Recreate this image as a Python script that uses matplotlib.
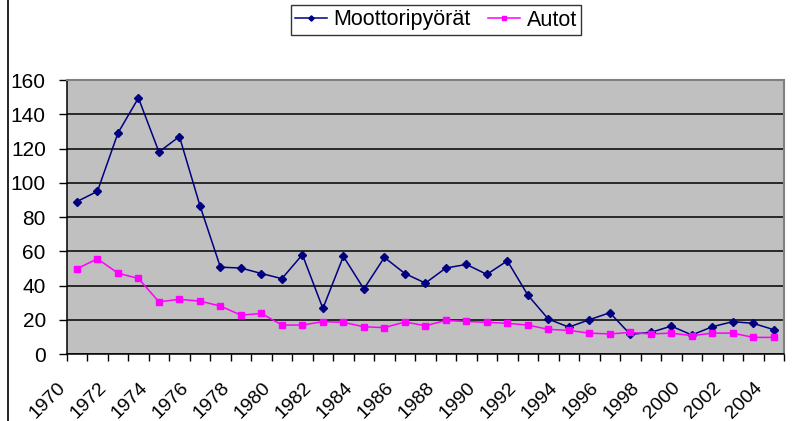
import numpy as np
import matplotlib
matplotlib.use("Agg")
import matplotlib.pyplot as plt
from matplotlib.transforms import ScaledTranslation
from matplotlib.lines import Line2D

years = list(range(1970, 2005))
moottoripyorat = [89, 95, 129, 149.5, 118, 127, 86.7, 50.7, 50.2, 47, 44, 58, 26.6, 57, 38, 56.4,
                  47, 41.4, 50.2, 52.3, 46.5, 54.4, 34.4, 20.4, 15.7, 20, 24.1, 11.5, 12.6, 16.3,
                  11.1, 15.9, 18.9, 17.9, 14.2]
autot = [49.8, 55.6, 47.2, 44.1, 30.5, 31.9, 30.9, 28, 22.7, 23.7, 16.9, 16.9, 18.9, 18.5, 15.9, 15.4,
         18.7, 16.5, 19.6, 19, 18.5, 17.9, 16.9, 14.4, 13.8, 12.2, 11.7, 12.6, 11.7, 12.2,
         10.7, 12.2, 12.2, 9.7, 9.7]
series_names = ["Moottoripyörät", "Autot"]
y_ticks = [0, 20, 40, 60, 80, 100, 120, 140, 160]

plt.rcParams['font.family'] = ['Liberation Sans', 'DejaVu Sans']

fig = plt.figure(figsize=(7.92, 4.21), dpi=100)
W, H = 792, 421
left, right, top, bottom = 66.7, 784, 80, 354
ax = fig.add_axes([left / W, 1 - bottom / H, (right - left) / W, (bottom - top) / H])
ax.set_facecolor('#C0C0C0')

x = np.arange(len(years))
ax.plot(x, moottoripyorat, color='#000080', lw=1.1, marker='D', ms=4.5,
        mfc='#000080', mec='#000080', label=series_names[0], zorder=3)
ax.plot(x, autot, color='#FF00FF', lw=1.1, marker='s', ms=5,
        mfc='#FF00FF', mec='#FF00FF', label=series_names[1], zorder=3)

ax.set_xlim(-0.5, len(years) - 0.5)
ax.set_ylim(0, 160)
ax.set_yticks(y_ticks)
ax.yaxis.grid(True, color='black', lw=1.1)
ax.set_axisbelow(True)

# category boundary ticks
ax.set_xticks(np.arange(-0.5, len(years), 1))
ax.set_xticklabels([])
ax.tick_params(axis='x', which='major', direction='out', length=5, width=1, color='black')
# labels every second year
lab_pos = x[::2]
ax.set_xticks(lab_pos, minor=True)
ax.set_xticklabels([str(y) for y in years[::2]], minor=True, rotation=45,
                   ha='right', va='top', fontsize=14)
ax.tick_params(axis='x', which='minor', length=0, pad=18)
off = ScaledTranslation(-8 / 100, 0, fig.dpi_scale_trans)
for lab in ax.get_xticklabels(minor=True):
    lab.set_transform(lab.get_transform() + off)

ax.tick_params(axis='y', direction='out', length=6, width=1, pad=9, labelsize=15)

for s in ['left', 'bottom']:
    ax.spines[s].set_color('black')
    ax.spines[s].set_linewidth(1.1)
for s in ['top', 'right']:
    ax.spines[s].set_color('#808080')
    ax.spines[s].set_linewidth(1.5)

fig.legend(loc='center', bbox_to_anchor=(436 / W, 1 - 20 / H), ncol=2, frameon=True,
           fancybox=False, edgecolor='black', fontsize=15.5, handlelength=1.5,
           handletextpad=0.3, columnspacing=0.8, borderpad=0.2, markerscale=0.6)
leg = fig.legends[0]
leg.get_frame().set_linewidth(1.0)

fig.add_artist(Line2D([7.5 / W, 7.5 / W], [0, 1], color='black', lw=1.2, transform=fig.transFigure))

fig.savefig('out.png', dpi=100)
